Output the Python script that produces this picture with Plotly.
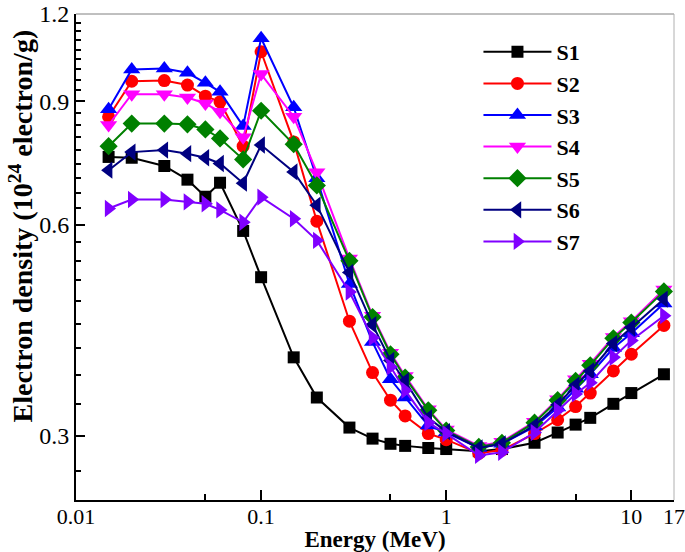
import plotly.graph_objects as go

energy = [0.015, 0.02, 0.03, 0.04, 0.05, 0.06, 0.08, 0.1, 0.15, 0.2, 0.3, 0.4, 0.5,
          0.6, 0.8, 1.0, 1.5, 2.0, 3.0, 4.0, 5.0, 6.0, 8.0, 10.0, 15.0]

s1 = [0.750, 0.748, 0.728, 0.696, 0.658, 0.689, 0.588, 0.505, 0.388, 0.340, 0.308, 0.297, 0.292,
      0.290, 0.288, 0.287, 0.285, 0.287, 0.293, 0.303, 0.311, 0.318, 0.333, 0.345, 0.367]
s2 = [0.856, 0.962, 0.964, 0.950, 0.916, 0.899, 0.777, 1.060, 0.788, 0.607, 0.437, 0.369, 0.337,
      0.320, 0.302, 0.296, 0.283, 0.286, 0.302, 0.316, 0.330, 0.345, 0.371, 0.392, 0.431]
s3 = [0.877, 1.000, 1.003, 0.989, 0.957, 0.929, 0.830, 1.108, 0.883, 0.699, 0.494, 0.408, 0.361,
      0.340, 0.310, 0.303, 0.288, 0.292, 0.309, 0.329, 0.350, 0.367, 0.400, 0.420, 0.463]
s4 = [0.833, 0.922, 0.922, 0.912, 0.894, 0.870, 0.800, 0.985, 0.856, 0.713, 0.537, 0.445, 0.394,
      0.365, 0.327, 0.306, 0.290, 0.294, 0.314, 0.338, 0.361, 0.380, 0.415, 0.437, 0.485]
s5 = [0.777, 0.837, 0.837, 0.835, 0.821, 0.797, 0.744, 0.873, 0.782, 0.683, 0.533, 0.443, 0.392,
      0.363, 0.326, 0.305, 0.289, 0.293, 0.313, 0.337, 0.359, 0.378, 0.413, 0.435, 0.482]
s6 = [0.718, 0.762, 0.767, 0.758, 0.748, 0.734, 0.688, 0.780, 0.714, 0.640, 0.513, 0.432, 0.384,
      0.359, 0.318, 0.304, 0.288, 0.292, 0.310, 0.332, 0.354, 0.371, 0.406, 0.428, 0.470]
s7 = [0.633, 0.652, 0.652, 0.647, 0.643, 0.630, 0.605, 0.657, 0.612, 0.570, 0.481, 0.414, 0.376,
      0.348, 0.313, 0.302, 0.281, 0.284, 0.303, 0.326, 0.344, 0.357, 0.388, 0.410, 0.445]

names = ["S1", "S2", "S3", "S4", "S5", "S6", "S7"]
series = [s1, s2, s3, s4, s5, s6, s7]
colors = ["#000000", "#FF0000", "#0000FF", "#FF00FF", "#008000", "#000080", "#8000FF"]
symbols = ["square", "circle", "triangle-up", "triangle-down", "diamond",
           "triangle-left", "triangle-right"]
sizes = [12, 13, 15, 15, 14, 15, 15]

x_ticks = [0.01, 0.1, 1, 10, 17]
x_ticklabels = ["0.01", "0.1", "1", "10", "17"]
x_minor = [0.05, 0.5, 5]
y_ticks = [0.3, 0.6, 0.9, 1.2]
y_ticklabels = ["0.3", "0.6", "0.9", "1.2"]
y_minor = [k / 30 for k in range(8, 37) if k % 9 != 0]

x_title = "Energy (MeV)"
y_title = "Electron density (10<sup>24</sup> electron/g)"

fig = go.Figure()
for name, vals, c, sym, sz in zip(names, series, colors, symbols, sizes):
    fig.add_trace(go.Scatter(
        x=energy, y=vals, name=name, mode="lines+markers",
        line=dict(color=c, width=2),
        marker=dict(symbol=sym, size=sz, color=c, line=dict(width=0)),
    ))

font_family = "Liberation Serif"
fig.update_layout(
    width=685, height=552,
    margin=dict(l=76, r=11, t=14, b=52),
    paper_bgcolor="white", plot_bgcolor="white",
    font=dict(family=font_family, size=23, color="black"),
    showlegend=True,
    legend=dict(x=0.673, y=0.965, xanchor="left", yanchor="top",
                bgcolor="rgba(0,0,0,0)",
                font=dict(family=font_family, size=22, color="black", weight="bold"),
                tracegroupgap=0, itemwidth=68),
    xaxis=dict(
        type="log", range=[-2, 1.23055], showgrid=False, zeroline=False,
        automargin=False, ticklabeloverflow="allow", ticklabelstandoff=-4,
        showline=True, linecolor="black", linewidth=2,
        ticks="inside", ticklen=10, tickwidth=1.5, tickcolor="black",
        tickvals=x_ticks, ticktext=x_ticklabels,
        tickfont=dict(family=font_family, size=22),
        minor=dict(tickvals=x_minor, ticks="inside", ticklen=6, tickwidth=1.5, tickcolor="black"),
        title=dict(text=x_title, standoff=6,
                   font=dict(family=font_family, size=23, weight="bold")),
    ),
    yaxis=dict(
        type="log", range=[-0.6149, 0.0792], showgrid=False, zeroline=False,
        automargin=False, ticklabeloverflow="allow",
        showline=True, linecolor="black", linewidth=2,
        ticks="inside", ticklen=9, tickwidth=1.5, tickcolor="black",
        tickvals=y_ticks, ticktext=y_ticklabels,
        tickfont=dict(family=font_family, size=24),
        minor=dict(tickvals=y_minor, ticks="inside", ticklen=5, tickwidth=1.5, tickcolor="black"),
    ),
)
fig.add_annotation(text=y_title, xref="paper", yref="paper", x=-0.092, y=0.565,
                   xanchor="center", yanchor="middle", textangle=-90, showarrow=False,
                   font=dict(family=font_family, size=28, weight="bold", color="black"))
fig.add_shape(type="line", xref="paper", yref="paper", x0=0, x1=1, y0=1, y1=1,
              line=dict(color="#808080", width=1))
fig.add_shape(type="line", xref="paper", yref="paper", x0=1, x1=1, y0=0, y1=1,
              line=dict(color="#B0B0B0", width=1))

fig.write_html("out.html", config={"displayModeBar": False},
               post_script="document.body.style.margin='0px';")
